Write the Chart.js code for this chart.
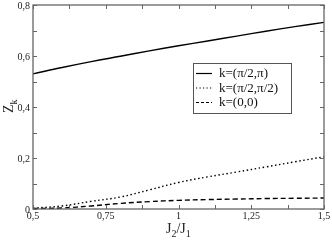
<!DOCTYPE html>
<html><head><meta charset="utf-8">
<script src="https://cdn.jsdelivr.net/npm/chart.js@4/dist/chart.umd.min.js"></script>
<style>html,body{margin:0;padding:0;background:#fff}#w{width:332px;height:241px}</style>
</head><body><div id="w"><canvas id="c"></canvas></div>
<script>
const xValues = [0.5, 0.6, 0.7, 0.8, 0.9, 1.0, 1.1, 1.2, 1.3, 1.4, 1.5];
const zPiHalfPi = [0.530, 0.555, 0.578, 0.599, 0.620, 0.640, 0.659, 0.678, 0.697, 0.715, 0.732];
const zPiHalfPiHalf = [0.003, 0.012, 0.030, 0.047, 0.075, 0.104, 0.126, 0.145, 0.165, 0.185, 0.205];
const zZero = [0.002, 0.004, 0.012, 0.022, 0.029, 0.034, 0.037, 0.039, 0.041, 0.042, 0.043];
const seriesLabels = ['k=(\u03c0/2,\u03c0)', 'k=(\u03c0/2,\u03c0/2)', 'k=(0,0)'];
const xTickValues = [0.5, 0.75, 1, 1.25, 1.5];
const xTickLabels = ['0,5', '0,75', '1', '1,25', '1,5'];
const yTickValues = [0, 0.2, 0.4, 0.6, 0.8];
const yTickLabels = ['0', '0,2', '0,4', '0,6', '0,8'];

const dashes = [[], [1.5, 2.6], [5, 3]];
const toPts = arr => arr.map((v, i) => ({x: xValues[i], y: v}));
const datasets = [zPiHalfPi, zPiHalfPiHalf, zZero].map((d, i) => ({
  label: seriesLabels[i], data: toPts(d), borderColor: '#000', borderWidth: 1.4,
  borderDash: dashes[i], pointRadius: 0, tension: 0.4, fill: false
}));
const SERIF = '"Liberation Serif", "DejaVu Serif", serif';
const axisPlugin = {
  id: 'axisPlugin',
  afterDraw(chart) {
    const ctx = chart.ctx, a = chart.chartArea, xs = chart.scales.x, ys = chart.scales.y;
    ctx.save();
    ctx.strokeStyle = '#666'; ctx.lineWidth = 1.3;
    ctx.strokeRect(a.left, a.top, a.right - a.left, a.bottom - a.top);
    ctx.lineWidth = 1;
    for (let v = 0.5; v <= 1.5001; v += 0.125) {
      const px = Math.round(xs.getPixelForValue(v)) + 0.5;
      ctx.beginPath(); ctx.moveTo(px, a.bottom); ctx.lineTo(px, a.bottom - 4);
      ctx.moveTo(px, a.top); ctx.lineTo(px, a.top + 4); ctx.stroke();
    }
    for (let v = 0; v <= 0.8001; v += 0.1) {
      const py = Math.round(ys.getPixelForValue(v)) + 0.5;
      ctx.beginPath(); ctx.moveTo(a.left, py); ctx.lineTo(a.left + 4, py);
      ctx.moveTo(a.right, py); ctx.lineTo(a.right - 4, py); ctx.stroke();
    }
    ctx.fillStyle = '#222'; ctx.font = '10px ' + SERIF;
    ctx.textAlign = 'center'; ctx.textBaseline = 'top';
    xTickValues.forEach((v, i) => ctx.fillText(xTickLabels[i], xs.getPixelForValue(v), a.bottom + 2));
    ctx.textAlign = 'right'; ctx.textBaseline = 'middle';
    yTickValues.forEach((v, i) => ctx.fillText(yTickLabels[i], a.left - 3, ys.getPixelForValue(v) + (v === 0 ? 1 : 1)));
    // x title J2/J1
    ctx.textAlign = 'left'; ctx.textBaseline = 'alphabetic';
    let x = 166, yb = 233;
    const parts = [['J', 14, 0], ['2', 10, 4], ['/', 14, 0], ['J', 14, 0], ['1', 10, 4]];
    parts.forEach(p => { ctx.font = p[1] + 'px ' + SERIF; ctx.fillText(p[0], x, yb + p[2]); x += ctx.measureText(p[0]).width; });
    // y title Zk
    ctx.translate(13, 113); ctx.rotate(-Math.PI / 2);
    ctx.font = '14px ' + SERIF; ctx.fillText('Z', 0, 0);
    let w = ctx.measureText('Z').width;
    ctx.font = '10px ' + SERIF; ctx.fillText('k', w, 4);
    ctx.restore();
    // legend
    ctx.save();
    const lx = 193, ly = 63, lw = 98, lh = 50;
    ctx.fillStyle = '#fff'; ctx.fillRect(lx, ly, lw, lh);
    ctx.strokeStyle = '#555'; ctx.lineWidth = 1; ctx.strokeRect(lx + 0.5, ly + 0.5, lw, lh);
    ctx.font = '13px ' + SERIF; ctx.fillStyle = '#111'; ctx.textBaseline = 'middle'; ctx.textAlign = 'left';
    seriesLabels.forEach((t, i) => {
      const yy = ly + 10 + i * 14.5;
      ctx.setLineDash(i === 1 ? [1.2, 2.3] : i === 2 ? [3, 2] : []);
      ctx.strokeStyle = '#000'; ctx.lineWidth = 1.2;
      ctx.beginPath(); ctx.moveTo(lx + 3, yy + 0.5); ctx.lineTo(lx + 19, yy + 0.5); ctx.stroke();
      ctx.fillText(t, lx + 26, yy + 1);
    });
    ctx.restore();
  }
};
new Chart(document.getElementById('c'), {
  type: 'line',
  data: {datasets},
  options: {
    responsive: true, maintainAspectRatio: false, animation: false,
    layout: {padding: {left: 33, right: 8, top: 5, bottom: 32}},
    plugins: {legend: {display: false}, tooltip: {enabled: false}},
    scales: {
      x: {type: 'linear', min: 0.5, max: 1.5, display: false},
      y: {type: 'linear', min: 0, max: 0.8, display: false}
    }
  },
  plugins: [axisPlugin]
});
</script></body></html>
